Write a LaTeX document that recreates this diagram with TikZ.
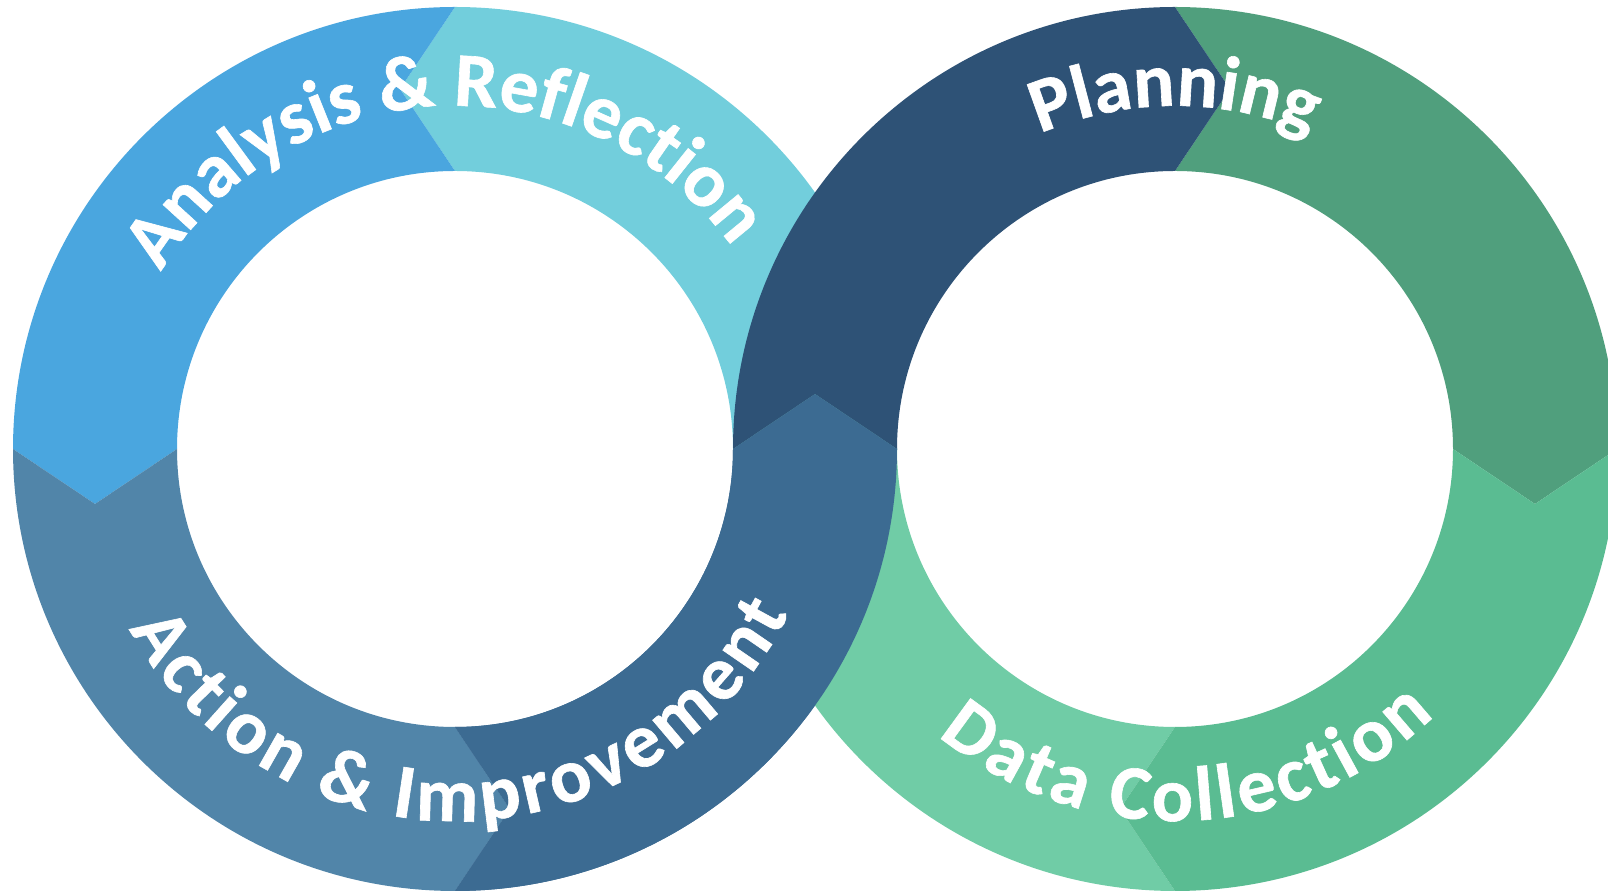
\documentclass[tikz,border=0pt]{standalone}
\usepackage{fontspec}
\setmainfont{Carlito}[BoldFeatures={FakeBold=0.8}]
\usetikzlibrary{decorations.text}
\definecolor{cBlue}{HTML}{4AA6DF}
\definecolor{cCyan}{HTML}{72CEDC}
\definecolor{cSteel}{HTML}{5185A9}
\definecolor{cDark}{HTML}{3C6B92}
\definecolor{cNavy}{HTML}{2E5276}
\definecolor{cGreenA}{HTML}{509F7D}
\definecolor{cGreenB}{HTML}{5ABC92}
\definecolor{cGreenC}{HTML}{70CCA6}
\newcommand\lblfont{\fontsize{38.5}{42}\selectfont\bfseries\color{white}}
\newcommand\lblfontsp{\fontsize{38.5}{42}\selectfont\bfseries\color{white}\kern2pt}
% #1 centre, #2 start angle, #3 end angle, #4 chevron shift, #5 colour
\newcommand\ringseg[5]{%
  \fill[#5, shift={(#1)}] (#2:221) arc[start angle=#2, end angle=#3, radius=221]
    -- ({#3+(#4)}:182.09) -- (#3:139) arc[start angle=#3, end angle=#2, radius=139]
    -- ({#2+(#4)}:182.09) -- cycle;}
\tikzset{
  ringlabel/.style={decorate, decoration={text along path, text align=center, text={#1}}}
}
\begin{document}
\begin{tikzpicture}[x=1pt,y=1pt]
\useasboundingbox (0,0) rectangle (804,446.5);
\clip (0,0) rectangle (804,446.5);
\coordinate (L) at (227.5,222);
\coordinate (Rc) at (587.5,222);
% left ring (counter-clockwise flow)
\ringseg{L}{0}{90}{8.686}{cCyan}
\ringseg{L}{90}{180}{8.686}{cBlue}
\ringseg{L}{180}{270}{8.686}{cSteel}
\ringseg{L}{270}{360}{8.686}{cDark}
% right ring (clockwise flow)
\ringseg{Rc}{-90}{-180}{-8.686}{cGreenC}
\ringseg{Rc}{90}{0}{-8.686}{cGreenA}
\ringseg{Rc}{0}{-90}{-8.686}{cGreenB}
\ringseg{Rc}{180}{90}{-8.686}{cNavy}
% weave: left bottom-right segment on top
\ringseg{L}{270}{360}{8.686}{cDark}
% labels
\path[shift={(L)}, ringlabel={|\lblfont|Analysis {\&} Reflection}]
  (152.5:171.5) arc[start angle=152.5, end angle=32.5, radius=171.5];
\path[shift={(L)}, ringlabel={|\lblfontsp|Action {\&} Improvement}]
  (196:186) arc[start angle=196, end angle=346, radius=186];
\path[shift={(Rc)}, ringlabel={|\lblfont|Planning}]
  (150:171.5) arc[start angle=150, end angle=30, radius=171.5];
\path[shift={(Rc)}, ringlabel={|\lblfontsp|Data Collection}]
  (197:186) arc[start angle=197, end angle=347, radius=186];
\end{tikzpicture}
\end{document}
